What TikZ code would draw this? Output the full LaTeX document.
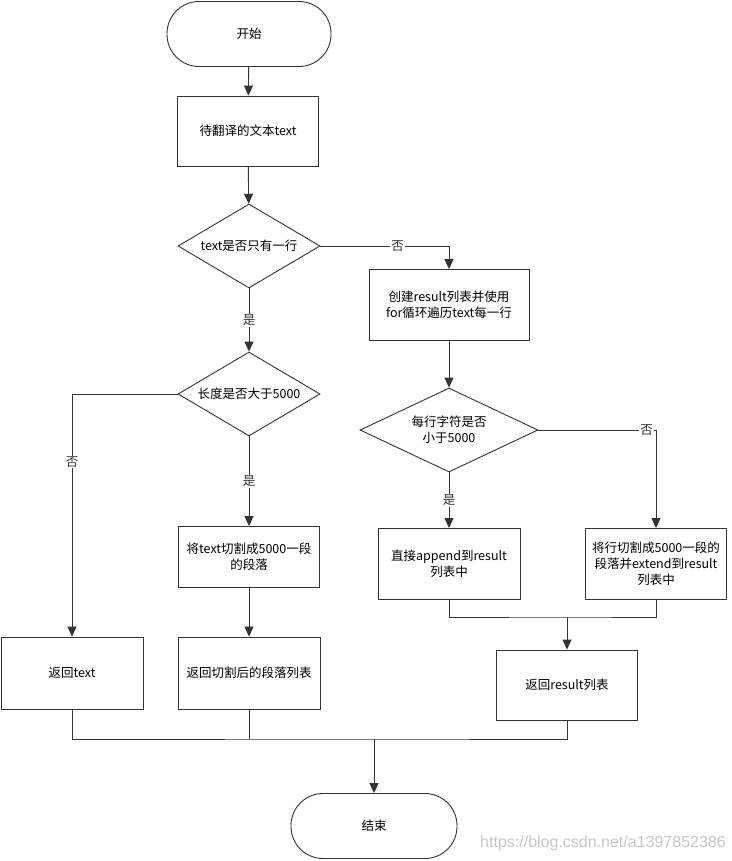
\documentclass[tikz,border=0pt]{standalone}
\usepackage{fontspec}
\setmainfont{Noto Sans CJK SC}
\newfontfamily\markfont{Liberation Sans}
\usetikzlibrary{shapes.geometric,arrows.meta}

\begin{document}
\begin{tikzpicture}[x=1pt,y=-1pt,>={Triangle[length=10pt,width=9pt]}]

\tikzset{%
every flow/.style={
draw=black!80,
line width=0.9pt,
font=\fontsize{12.5}{16}\selectfont,
align=center,
inner sep=2pt
},
terminal/.style={
every flow,
rounded corners=32pt,
minimum width=164pt,
minimum height=65pt
},
process/.style={
every flow,
minimum width=141pt,
minimum height=70pt
},
decision/.style={
every flow,
diamond,
aspect=1.7,
inner sep=0pt,
minimum width=142pt,
minimum height=84pt
},
answer/.style={
fill=white,
inner sep=1pt,
font=\fontsize{12.5}{16}\selectfont
},
}

\useasboundingbox (0,0) rectangle (731,861);

% Start and the text to translate
\node [terminal] (start) at (249,34) {开始};
\node [process] (text) at (248,131) {待翻译的文本text};

% Decisions
\node [decision] (oneline) at (249,246) {text是否只有一行};
\node [decision] (longer) at (249,394) {长度是否大于5000};
\node [decision, minimum width=178pt] (eachline) at (449,430) {每行字符是否\\小于5000};

% Left branch boxes
\node [process, minimum height=61pt] (split) at (249,557) {将text切割成5000一段\\的段落};
\node [process, minimum width=142pt, minimum height=72pt] (rettext) at (72,673) {返回text};
\node [process, minimum width=142pt, minimum height=72pt] (retsplit) at (249,673) {返回切割后的段落列表};

% Right branch boxes
\node [process, minimum width=160pt, minimum height=71pt] (create) at (449,305) {创建result列表并使用\\for循环遍历text每一行};
\node [process, minimum width=142pt, minimum height=71pt] (append) at (449,564) {直接append到result\\列表中};
\node [process, minimum height=71pt] (extend) at (656,564) {将行切割成5000一段的\\段落并extend到result\\列表中};
\node [process] (retresult) at (567,685) {返回result列表};

% End
\node [terminal, minimum width=166pt] (end) at (374,826) {结束};

% Join points
\coordinate (joinR) at (567,617);
\coordinate (joinB) at (374,739);

% Arrows and answers
\draw [black!80, line width=0.9pt, ->] (start) -- (text);
\draw [black!80, line width=0.9pt, ->] (text) -- (oneline);
\draw [black!80, line width=0.9pt, ->] (oneline) -| node[answer, pos=0.3] {否} (create);
\draw [black!80, line width=0.9pt, ->] (oneline) -- node[answer] {是} (longer);
\draw [black!80, line width=0.9pt, ->] (longer) -| node[answer, pos=0.64] {否} (rettext);
\draw [black!80, line width=0.9pt, ->] (longer) -- node[answer] {是} (split);
\draw [black!80, line width=0.9pt, ->] (split) -- (retsplit);
\draw [black!80, line width=0.9pt, ->] (create) -- (eachline);
\draw [black!80, line width=0.9pt, ->] (eachline) -- node[answer] {是} (append);
\draw [black!80, line width=0.9pt, ->] (eachline) -| node[answer, pos=0.46] {否} (extend);

% Merging the branches
\draw [black!80, line width=0.9pt] (append.south) |- (joinR) -| (extend.south);
\draw [black!80, line width=0.9pt, ->] (joinR) -- (retresult);
\draw [black!80, line width=0.9pt] (rettext.south) |- (joinB) -| (retresult.south);
\draw [black!80, line width=0.9pt] (retsplit.south) -- (retsplit.south |- joinB);
\draw [black!80, line width=0.9pt, ->] (joinB) -- (end);

% Watermark
\node [text=black!22, font=\markfont\fontsize{16}{16}\selectfont] (mark) at (603,843) {https://blog.csdn.net/a1397852386};

\end{tikzpicture}
\end{document}
